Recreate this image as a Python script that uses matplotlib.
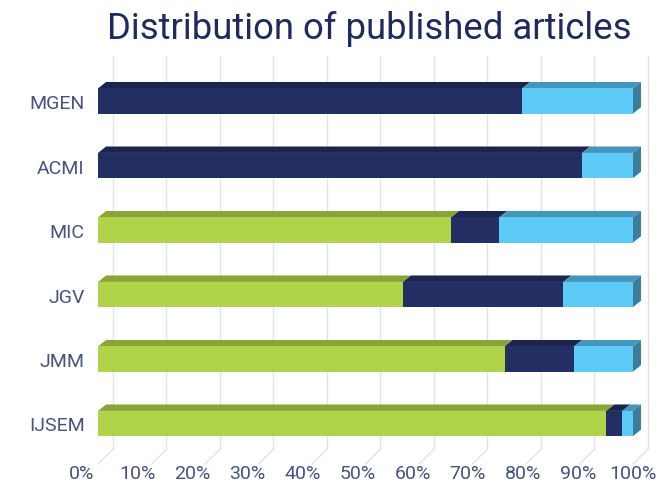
import numpy as np
import matplotlib
matplotlib.use("Agg")
import matplotlib.pyplot as plt
from matplotlib.patches import Polygon

# --- Données ---
journals = ["IJSEM", "JMM", "JGV", "MIC", "ACMI", "MGEN"]
green_share = [95, 76, 57, 66, 0, 0]
navy_share = [3, 13, 30, 9, 90.5, 79.3]
blue_share = [2, 11, 13, 25, 9.5, 20.7]
x_ticks = [0, 10, 20, 30, 40, 50, 60, 70, 80, 90, 100]
x_tick_labels = [f"{t}%" for t in x_ticks]

# --- Style ---
series = [
    (green_share, "#b0d34a", "#8ba43a", "#7c9434"),
    (navy_share, "#232e63", "#1c2450", "#171e44"),
    (blue_share, "#5dcbf7", "#4496ba", "#3a7e9c"),
]
text_color = "#46527f"
title_color = "#1f2b5e"
grid_color = "#e4e4e4"
bar_h = 0.39
bar_dx, bar_dy = 1.5, 0.10     # profondeur des barres
wall_dx, wall_dy = 2.8, 0.23   # profondeur du mur
y_lo, y_hi = -0.628, 5.698

fig = plt.figure(figsize=(6.62, 4.89), dpi=100)
ax = fig.add_axes([98 / 662, 24 / 489, 535 / 662, 408 / 489])
ax.set_xlim(0, 100)
ax.set_ylim(y_lo, y_hi)
for s in ax.spines.values():
    s.set_visible(False)

# --- Grille (mur + sol) ---
floor_back = y_lo + wall_dy
for t in x_ticks:
    ax.plot([t + wall_dx, t + wall_dx], [floor_back, y_hi], color=grid_color,
            lw=1, zorder=0, clip_on=False)
    ax.plot([t, t + wall_dx], [y_lo, floor_back], color=grid_color,
            lw=1, zorder=0, clip_on=False)

# --- Barres 3D ---
ypos = np.arange(len(journals))
left = np.zeros(len(journals))
totals = np.sum([s[0] for s in series], axis=0)
for vals, front, top, side in series:
    vals = np.array(vals, dtype=float)
    ax.barh(ypos, vals, left=left, height=bar_h, color=front, zorder=3, clip_on=False)
    for y, x0, w, tot in zip(ypos, left, vals, totals):
        if w <= 0:
            continue
        yt = y + bar_h / 2
        ax.add_patch(Polygon([(x0, yt), (x0 + w, yt), (x0 + w + bar_dx, yt + bar_dy),
                              (x0 + bar_dx, yt + bar_dy)], closed=True,
                             facecolor=top, edgecolor="none", zorder=2, clip_on=False))
        if abs(x0 + w - tot) < 1e-6:
            yb = y - bar_h / 2
            ax.add_patch(Polygon([(x0 + w, yb), (x0 + w, yt), (x0 + w + bar_dx, yt + bar_dy),
                                  (x0 + w + bar_dx, yb + bar_dy)], closed=True,
                                 facecolor=side, edgecolor="none", zorder=2, clip_on=False))
    left += vals

# --- Axes ---
ax.set_yticks(ypos, journals)
ax.tick_params(axis="y", length=0, pad=9.5, labelsize=14, labelcolor=text_color)
for lab in ax.get_yticklabels():
    lab.set_fontfamily("Roboto")
ax.set_xticks([])
for t, lab in zip(x_ticks, x_tick_labels):
    ax.text(-3 + t * 1.03, -0.767, lab, ha="center", va="center", fontsize=14,
            color=text_color, family="Roboto", clip_on=False)

fig.text(369 / 662, 1 - 38.6 / 489, "Distribution of published articles",
         ha="center", va="baseline", fontsize=26.3, color=title_color, family="Roboto")

fig.savefig("out.png", dpi=100)
